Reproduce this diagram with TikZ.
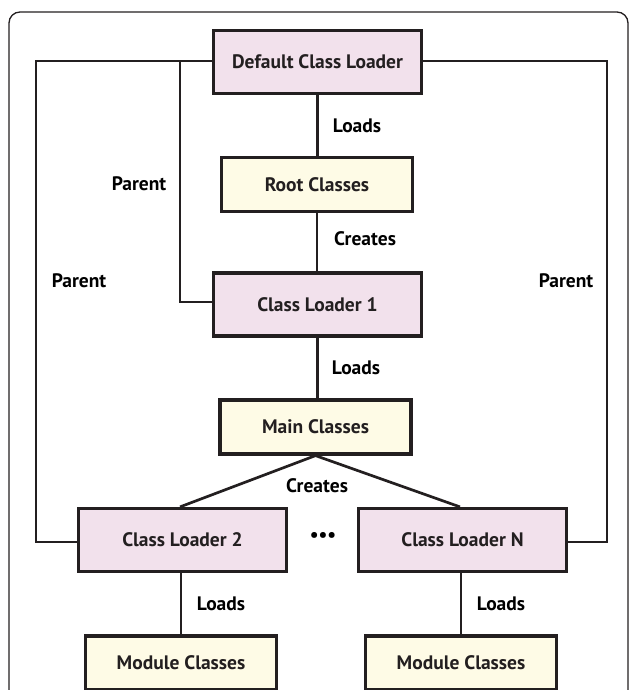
\documentclass[tikz,border=0pt]{standalone}
\usepackage{fontspec}
\setmainfont{PT Sans}
\definecolor{pinkfill}{RGB}{242,225,236}
\definecolor{yellowfill}{RGB}{254,251,230}
\definecolor{linecol}{RGB}{35,31,32}
\begin{document}
\begin{tikzpicture}[x=1pt,y=-1pt,
  loader/.style={draw=linecol,line width=3.2pt,fill=pinkfill,minimum width=208pt,minimum height=63pt,inner sep=0pt,text=linecol,font=\bfseries\fontsize{19.5}{22}\selectfont},
  classes/.style={loader,fill=yellowfill,minimum width=191pt,minimum height=54pt},
  conn/.style={draw=linecol,line width=2.7pt},
  lbl/.style={inner sep=0pt,text=black,font=\bfseries\fontsize{19.5}{22}\selectfont}
]
\useasboundingbox (0,0) rectangle (629,690);
\clip (0,0) rectangle (629,690);
\draw[linecol,line width=1.3pt,rounded corners=11pt] (9,720) -- (9,12) -- (628,12) -- (628,720);

\node[loader] (dcl) at (317.5,62) {Default Class Loader};
\node[classes] (root) at (317,184.5) {Root Classes};
\node[loader] (cl1) at (317.5,304.5) {Class Loader 1};
\node[classes] (main) at (315.5,427) {Main Classes};
\node[loader] (cl2) at (182.5,540) {Class Loader 2};
\node[loader] (cln) at (462.5,540) {Class Loader N};
\node[classes] (mod1) at (181,663) {Module Classes};
\node[classes] (mod2) at (461,663) {Module Classes};

\coordinate (lt) at (36,61);
\coordinate (lb) at (36,542);
\coordinate (it) at (180,61);
\coordinate (ib) at (180,302);
\coordinate (rt) at (607,61);
\coordinate (rb) at (607,542);

\draw[conn] (dcl.west |- lt) -- (lt) -- (lb) -- (cl2.west |- lb);
\draw[conn] (it) -- (ib) -- (cl1.west |- ib);
\draw[conn] (dcl.east |- rt) -- (rt) -- (rb) -- (cln.east |- rb);
\draw[conn] (dcl.south) -- (dcl.south |- root.north);
\draw[conn] (root.south) -- (root.south |- cl1.north);
\draw[conn] (cl1.south) -- (cl1.south |- main.north);
\draw[conn] (main.south) -- ([xshift=-2.5pt]cl2.north);
\draw[conn] (main.south) -- ([xshift=-2.5pt]cln.north);
\draw[conn] (mod1.north |- cl2.south) -- (mod1.north);
\draw[conn] (mod2.north |- cln.south) -- (mod2.north);

\node[lbl] (l1) at (357,126) {Loads};
\node[lbl] (p1) at (139,184) {Parent};
\node[lbl] (c1) at (365,239) {Creates};
\node[lbl] (p2) at (79,281) {Parent};
\node[lbl] (p3) at (566,281) {Parent};
\node[lbl] (l2) at (356,368) {Loads};
\node[lbl] (c2) at (317,486) {Creates};
\node[lbl] (dots) at (323,537) {•••};
\node[lbl] (l3) at (221,604) {Loads};
\node[lbl] (l4) at (501,604) {Loads};
\end{tikzpicture}
\end{document}
